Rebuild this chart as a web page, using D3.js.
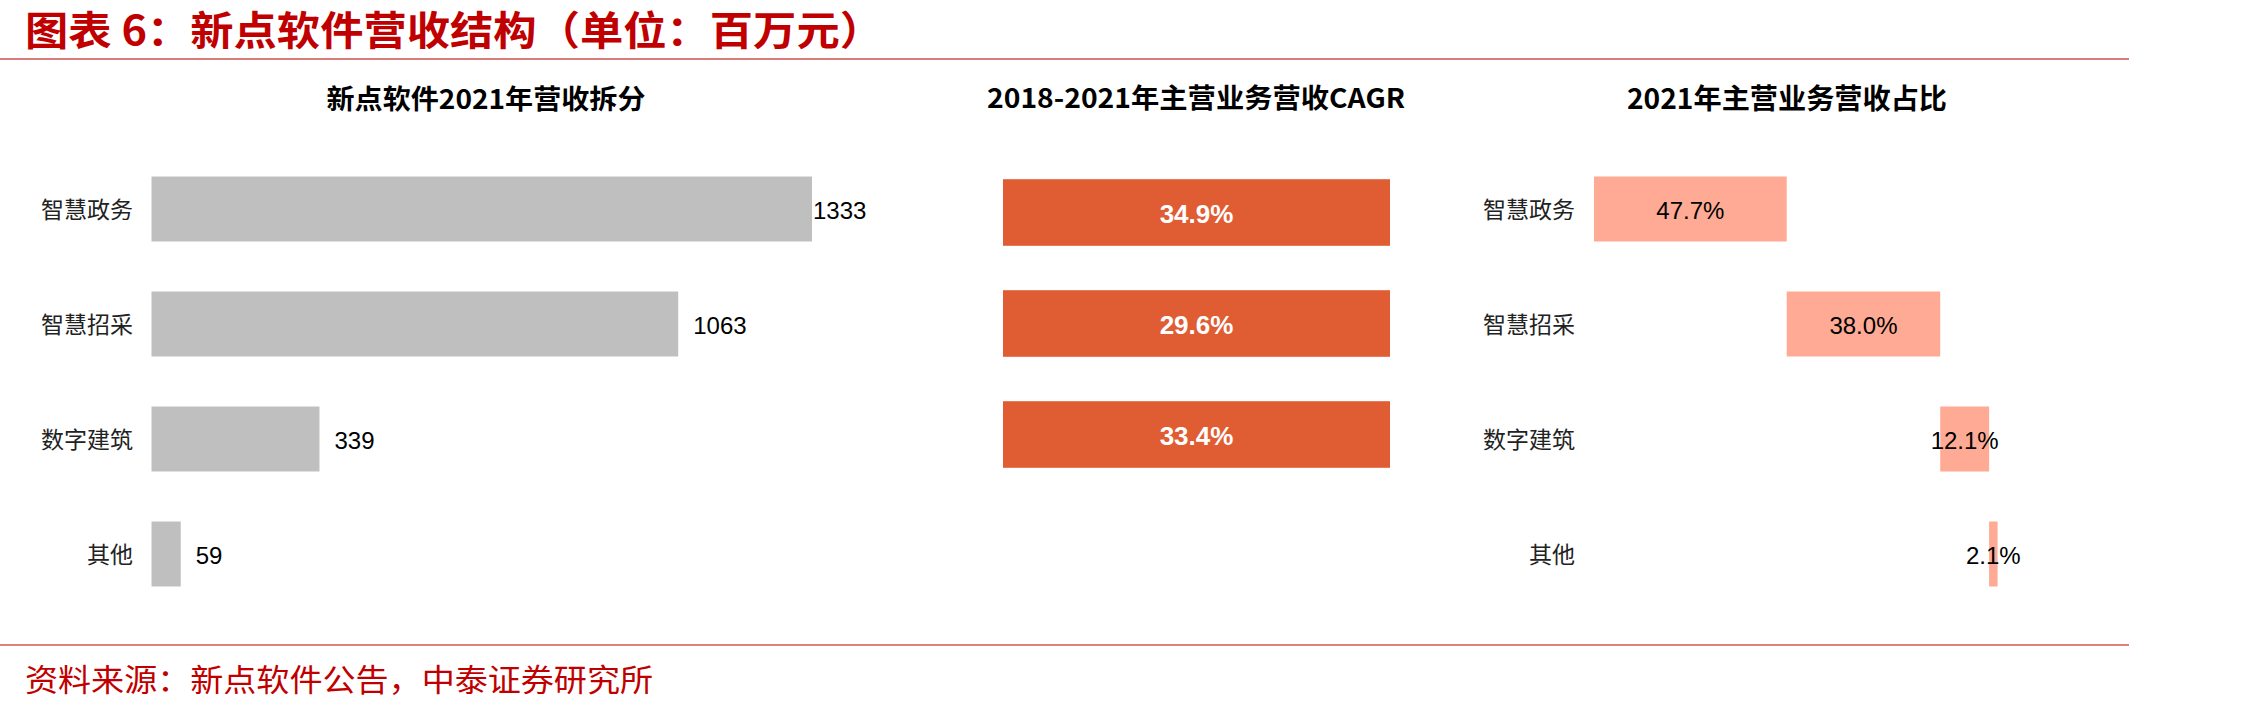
<!DOCTYPE html>
<html>
<head>
<meta charset="utf-8">
<script src="https://cdn.jsdelivr.net/npm/d3@7"></script>
<style>
  body { margin: 0; background: #fff; }
  svg { display: block; }
</style>
</head>
<body>
<div class="chart"></div>
<script>
const width = 2262;
const height = 710;

// data
const categories = ['智慧政务', '智慧招采', '数字建筑', '其他'];
const revenue = [1333, 1063, 339, 59];          // 百万元, 2021
const cagrCategories = ['智慧政务', '智慧招采', '数字建筑'];
const cagr = [34.9, 29.6, 33.4];                 // %, 2018-2021
const share = [47.7, 38.0, 12.1, 2.1];           // %, 2021

const red = '#c00000';
const cjk = '"Noto Sans CJK SC", sans-serif';
const latin = '"Liberation Sans", Arial, sans-serif';

const svg = d3.select('.chart')
  .append('svg')
  .attr('width', width)
  .attr('height', height)
  .attr('viewBox', `0 0 ${width} ${height}`);

svg.append('rect').attr('width', width).attr('height', height).attr('fill', '#fff');

// small text helper, textLength used where the original font is wider / narrower
const label = (parent, x, y, txt, opts) => {
  const t = parent.append('text')
    .attr('x', x)
    .attr('y', y)
    .attr('dominant-baseline', 'central')
    .attr('text-anchor', opts.anchor || 'start')
    .attr('font-family', opts.family || cjk)
    .attr('font-size', opts.size)
    .attr('font-weight', opts.weight || 'normal')
    .attr('fill', opts.fill || '#000')
    .text(txt);
  if (opts.len) t.attr('textLength', opts.len).attr('lengthAdjust', 'spacingAndGlyphs');
  return t;
};

// header / footer
label(svg, 25, 28, '图表 6：新点软件营收结构（单位：百万元）', {size: 40, weight: 'bold', fill: red, len: 858});
svg.append('line').attr('x1', 0).attr('x2', 2129).attr('y1', 59).attr('y2', 59)
  .attr('stroke', '#c8504d').attr('stroke-width', 1.6);
svg.append('line').attr('x1', 0).attr('x2', 2129).attr('y1', 645).attr('y2', 645)
  .attr('stroke', '#d9534f').attr('stroke-width', 1.6);
label(svg, 25, 677, '资料来源：新点软件公告，中泰证券研究所', {size: 31, fill: red, len: 628});

// shared vertical layout for the 4-row panels
const rowBand = () => d3.scaleBand().domain(categories).range([151.5, 611.5]).paddingInner(0.435).paddingOuter(0.2175);

// ---------- left: revenue split ----------
const xL = d3.scaleLinear().domain([0, d3.max(revenue)]).range([151.5, 812]);
const yL = rowBand();

label(svg, 486, 97, '新点软件2021年营收拆分', {size: 27, weight: 'bold', anchor: 'middle', len: 319});

const left = svg.append('g');
left.selectAll('rect')
  .data(revenue)
  .enter().append('rect')
  .attr('x', xL(0))
  .attr('y', (d, i) => yL(categories[i]))
  .attr('width', d => xL(d) - xL(0))
  .attr('height', yL.bandwidth())
  .attr('fill', '#bfbfbf');

revenue.forEach((v, i) => {
  const cy = yL(categories[i]) + yL.bandwidth() / 2;
  label(left, Math.min(xL(v) + 15, xL.range()[1] + 1), cy + 1, v, {size: 24, family: latin});
  label(left, 133, cy - 1, categories[i], {size: 23, anchor: 'end', fill: '#222'});
});

// ---------- middle: CAGR ----------
const xM = d3.scaleLinear().domain([0, 1]).range([1003, 1390]);
const yM = d3.scaleBand().domain(cagrCategories).range([157, 490]).paddingInner(0.4).paddingOuter(0.2);

label(svg, 1196, 96, '2018-2021年主营业务营收CAGR', {size: 27, weight: 'bold', anchor: 'middle', len: 418});

const mid = svg.append('g');
mid.selectAll('rect')
  .data(cagr)
  .enter().append('rect')
  .attr('x', xM(0))
  .attr('y', (d, i) => yM(cagrCategories[i]))
  .attr('width', xM(1) - xM(0))
  .attr('height', yM.bandwidth())
  .attr('fill', '#e05c33');

cagr.forEach((v, i) => {
  const cy = yM(cagrCategories[i]) + yM.bandwidth() / 2;
  label(mid, (xM(0) + xM(1)) / 2, cy + 1, v.toFixed(1) + '%',
    {size: 26, family: latin, weight: 'bold', anchor: 'middle', fill: '#fff'});
});

// ---------- right: share waterfall ----------
const xR = d3.scaleLinear().domain([0, 100]).range([1594, 1998]);
const yR = rowBand();
const ends = Array.from(d3.cumsum(share));

label(svg, 1787, 97, '2021年主营业务营收占比', {size: 28, weight: 'bold', anchor: 'middle', len: 320});

const right = svg.append('g');
right.selectAll('rect')
  .data(share)
  .enter().append('rect')
  .attr('x', (d, i) => xR(ends[i] - d))
  .attr('y', (d, i) => yR(categories[i]))
  .attr('width', d => xR(d) - xR(0))
  .attr('height', yR.bandwidth())
  .attr('fill', '#ffaa94');

share.forEach((v, i) => {
  const cy = yR(categories[i]) + yR.bandwidth() / 2;
  const cx = xR(ends[i] - v / 2);
  label(right, cx, cy + 1, v.toFixed(1) + '%', {size: 24, family: latin, anchor: 'middle'});
  label(right, 1575, cy - 1, categories[i], {size: 23, anchor: 'end', fill: '#222'});
});
</script>
</body>
</html>
